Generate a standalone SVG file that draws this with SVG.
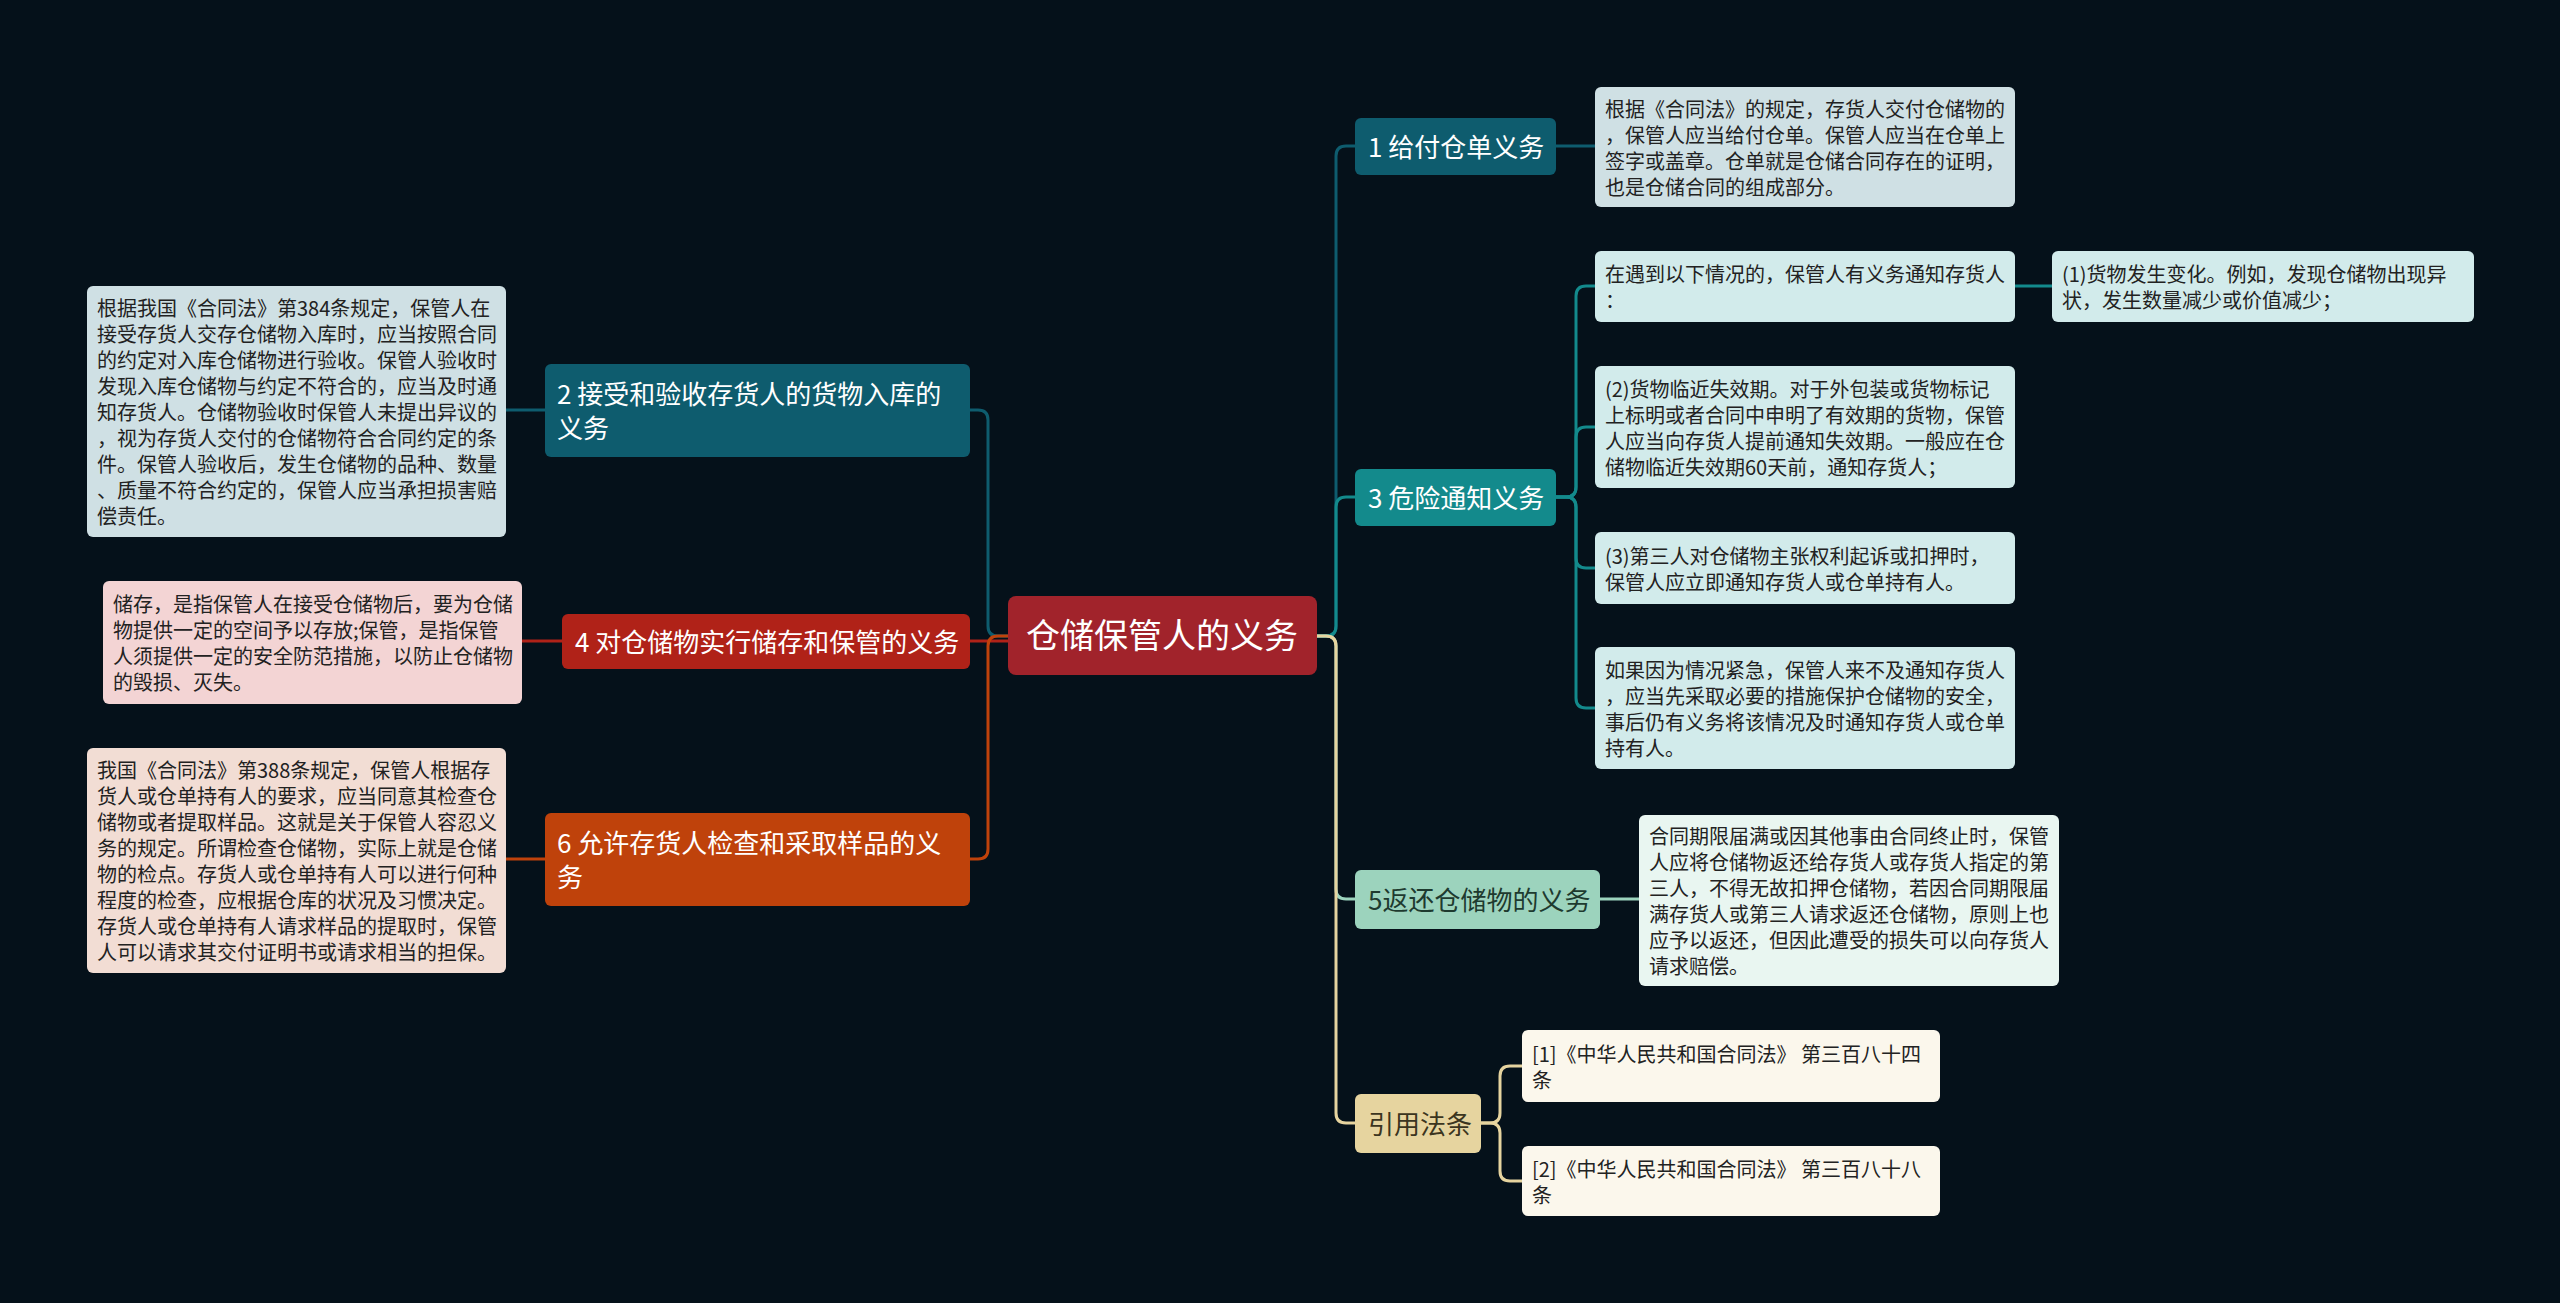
<svg xmlns="http://www.w3.org/2000/svg" width="2560" height="1303" viewBox="0 0 2560 1303">
<style>
text{font-family:"Noto Sans CJK SC","Noto Sans",sans-serif}
.n{font-size:26px;fill:#ffffff}
.nd{font-size:26px}
.l{font-size:20px;fill:#222222}
.c{fill:none;stroke-width:3}
</style>
<rect width="2560" height="1303" fill="#05111a"/>
<g id="connectors">
<path class="c" stroke="#0e5c6e" d="M1316,636 H1326 Q1336,636 1336,626 V156 Q1336,146 1346,146 H1355"/>
<path class="c" stroke="#138a8c" d="M1316,636 H1326 Q1336,636 1336,626 V507 Q1336,497 1346,497 H1355"/>
<path class="c" stroke="#9cd3bd" d="M1316,636 H1326 Q1336,636 1336,646 V889 Q1336,899 1346,899 H1355"/>
<path class="c" stroke="#e6d49f" d="M1316,636 H1326 Q1336,636 1336,646 V1113 Q1336,1123 1346,1123 H1355"/>
<path class="c" stroke="#0e5c6e" d="M1008,636 H998 Q988,636 988,626 V420 Q988,410 978,410 H970"/>
<path class="c" stroke="#b02218" d="M1008,641 H970"/>
<path class="c" stroke="#bf420b" d="M1008,636 H998 Q988,636 988,646 V849 Q988,859 978,859 H970"/>
<path class="c" stroke="#0e5c6e" d="M1556,146 H1595"/>
<path class="c" stroke="#138a8c" d="M1556,497 H1566 Q1576,497 1576,487 V296 Q1576,286 1586,286 H1595"/>
<path class="c" stroke="#138a8c" d="M1556,497 H1566 Q1576,497 1576,487 V437 Q1576,427 1586,427 H1595"/>
<path class="c" stroke="#138a8c" d="M1556,497 H1566 Q1576,497 1576,507 V558 Q1576,568 1586,568 H1595"/>
<path class="c" stroke="#138a8c" d="M1556,497 H1566 Q1576,497 1576,507 V698 Q1576,708 1586,708 H1595"/>
<path class="c" stroke="#138a8c" d="M2015,286 H2052"/>
<path class="c" stroke="#9cd3bd" d="M1600,899 H1639"/>
<path class="c" stroke="#e6d49f" d="M1481,1123 H1490 Q1500,1123 1500,1113 V1076 Q1500,1066 1510,1066 H1522"/>
<path class="c" stroke="#e6d49f" d="M1481,1123 H1490 Q1500,1123 1500,1133 V1171 Q1500,1181 1510,1181 H1522"/>
<path class="c" stroke="#0e5c6e" d="M545,410 H506"/>
<path class="c" stroke="#b02218" d="M562,641 H522"/>
<path class="c" stroke="#bf420b" d="M545,859 H506"/>
</g>
<g id="root">
<rect x="1008" y="596" width="309" height="79" rx="8" fill="#a1232b"/>
<text x="1162" y="648" font-size="34" fill="#ffffff" text-anchor="middle">仓储保管人的义务</text>
</g>
<g id="node1">
<rect x="1355" y="118" width="201" height="57" rx="6" fill="#0e5c6e"/>
<text class="n" x="1368" y="157">1 给付仓单义务</text>
</g>
<g id="leaf1">
<rect x="1595" y="87" width="420" height="120" rx="6" fill="#cfe0e4"/>
<text class="l" x="1605" y="117">根据《合同法》的规定，存货人交付仓储物的</text>
<text class="l" x="1605" y="143">，保管人应当给付仓单。保管人应当在仓单上</text>
<text class="l" x="1605" y="169">签字或盖章。仓单就是仓储合同存在的证明，</text>
<text class="l" x="1605" y="195">也是仓储合同的组成部分。</text>
</g>
<g id="node3">
<rect x="1355" y="469" width="201" height="57" rx="6" fill="#138a8c"/>
<text class="n" x="1368" y="508">3 危险通知义务</text>
</g>
<g id="leaf3a">
<rect x="1595" y="251" width="420" height="71" rx="6" fill="#d2ebeb"/>
<text class="l" x="1605" y="282">在遇到以下情况的，保管人有义务通知存货人</text>
<text class="l" x="1605" y="308">：</text>
</g>
<g id="leaf3a1">
<rect x="2052" y="251" width="422" height="71" rx="6" fill="#d2ebeb"/>
<text class="l" x="2062" y="282">(1)货物发生变化。例如，发现仓储物出现异</text>
<text class="l" x="2062" y="308">状，发生数量减少或价值减少；</text>
</g>
<g id="leaf3b">
<rect x="1595" y="366" width="420" height="122" rx="6" fill="#d2ebeb"/>
<text class="l" x="1605" y="397">(2)货物临近失效期。对于外包装或货物标记</text>
<text class="l" x="1605" y="423">上标明或者合同中申明了有效期的货物，保管</text>
<text class="l" x="1605" y="449">人应当向存货人提前通知失效期。一般应在仓</text>
<text class="l" x="1605" y="475">储物临近失效期60天前，通知存货人；</text>
</g>
<g id="leaf3c">
<rect x="1595" y="532" width="420" height="72" rx="6" fill="#d2ebeb"/>
<text class="l" x="1605" y="564">(3)第三人对仓储物主张权利起诉或扣押时，</text>
<text class="l" x="1605" y="590">保管人应立即通知存货人或仓单持有人。</text>
</g>
<g id="leaf3d">
<rect x="1595" y="647" width="420" height="122" rx="6" fill="#d2ebeb"/>
<text class="l" x="1605" y="678">如果因为情况紧急，保管人来不及通知存货人</text>
<text class="l" x="1605" y="704">，应当先采取必要的措施保护仓储物的安全，</text>
<text class="l" x="1605" y="730">事后仍有义务将该情况及时通知存货人或仓单</text>
<text class="l" x="1605" y="756">持有人。</text>
</g>
<g id="node5">
<rect x="1355" y="870" width="245" height="59" rx="6" fill="#9cd3bd"/>
<text class="nd" x="1368" y="910" fill="#1e3a2f">5返还仓储物的义务</text>
</g>
<g id="leaf5">
<rect x="1639" y="815" width="420" height="171" rx="6" fill="#e9f6f1"/>
<text class="l" x="1649" y="844" fill="#2e7d55">合同期限届满或因其他事由合同终止时，保管</text>
<text class="l" x="1649" y="870" fill="#2e7d55">人应将仓储物返还给存货人或存货人指定的第</text>
<text class="l" x="1649" y="896" fill="#2e7d55">三人，不得无故扣押仓储物，若因合同期限届</text>
<text class="l" x="1649" y="922" fill="#2e7d55">满存货人或第三人请求返还仓储物，原则上也</text>
<text class="l" x="1649" y="948" fill="#2e7d55">应予以返还，但因此遭受的损失可以向存货人</text>
<text class="l" x="1649" y="974" fill="#2e7d55">请求赔偿。</text>
</g>
<g id="nodeRef">
<rect x="1355" y="1094" width="126" height="59" rx="6" fill="#e6d49f"/>
<text class="nd" x="1368" y="1134" fill="#3b3520">引用法条</text>
</g>
<g id="ref1">
<rect x="1522" y="1030" width="418" height="72" rx="6" fill="#fbf7ec"/>
<text class="l" x="1532" y="1062" fill="#333333">[1]《中华人民共和国合同法》 第三百八十四</text>
<text class="l" x="1532" y="1088" fill="#333333">条</text>
</g>
<g id="ref2">
<rect x="1522" y="1146" width="418" height="70" rx="6" fill="#fbf7ec"/>
<text class="l" x="1532" y="1177" fill="#333333">[2]《中华人民共和国合同法》 第三百八十八</text>
<text class="l" x="1532" y="1203" fill="#333333">条</text>
</g>
<g id="node2">
<rect x="545" y="364" width="425" height="93" rx="6" fill="#0e5c6e"/>
<text class="n" x="557" y="404">2 接受和验收存货人的货物入库的</text>
<text class="n" x="557" y="438">义务</text>
</g>
<g id="leaf2">
<rect x="87" y="286" width="419" height="251" rx="6" fill="#cfe0e4"/>
<text class="l" x="97" y="316">根据我国《合同法》第384条规定，保管人在</text>
<text class="l" x="97" y="342">接受存货人交存仓储物入库时，应当按照合同</text>
<text class="l" x="97" y="368">的约定对入库仓储物进行验收。保管人验收时</text>
<text class="l" x="97" y="394">发现入库仓储物与约定不符合的，应当及时通</text>
<text class="l" x="97" y="420">知存货人。仓储物验收时保管人未提出异议的</text>
<text class="l" x="97" y="446">，视为存货人交付的仓储物符合合同约定的条</text>
<text class="l" x="97" y="472">件。保管人验收后，发生仓储物的品种、数量</text>
<text class="l" x="97" y="498">、质量不符合约定的，保管人应当承担损害赔</text>
<text class="l" x="97" y="524">偿责任。</text>
</g>
<g id="node4">
<rect x="562" y="614" width="408" height="55" rx="6" fill="#b02218"/>
<text class="n" x="575" y="652">4 对仓储物实行储存和保管的义务</text>
</g>
<g id="leaf4">
<rect x="103" y="581" width="419" height="123" rx="6" fill="#f3d4d4"/>
<text class="l" x="113" y="612">储存，是指保管人在接受仓储物后，要为仓储</text>
<text class="l" x="113" y="638">物提供一定的空间予以存放;保管，是指保管</text>
<text class="l" x="113" y="664">人须提供一定的安全防范措施，以防止仓储物</text>
<text class="l" x="113" y="690">的毁损、灭失。</text>
</g>
<g id="node6">
<rect x="545" y="813" width="425" height="93" rx="6" fill="#bf420b"/>
<text class="n" x="557" y="853">6 允许存货人检查和采取样品的义</text>
<text class="n" x="557" y="887">务</text>
</g>
<g id="leaf6">
<rect x="87" y="748" width="419" height="225" rx="6" fill="#f2ddd4"/>
<text class="l" x="97" y="778">我国《合同法》第388条规定，保管人根据存</text>
<text class="l" x="97" y="804">货人或仓单持有人的要求，应当同意其检查仓</text>
<text class="l" x="97" y="830">储物或者提取样品。这就是关于保管人容忍义</text>
<text class="l" x="97" y="856">务的规定。所谓检查仓储物，实际上就是仓储</text>
<text class="l" x="97" y="882">物的检点。存货人或仓单持有人可以进行何种</text>
<text class="l" x="97" y="908">程度的检查，应根据仓库的状况及习惯决定。</text>
<text class="l" x="97" y="934">存货人或仓单持有人请求样品的提取时，保管</text>
<text class="l" x="97" y="960">人可以请求其交付证明书或请求相当的担保。</text>
</g>
</svg>
